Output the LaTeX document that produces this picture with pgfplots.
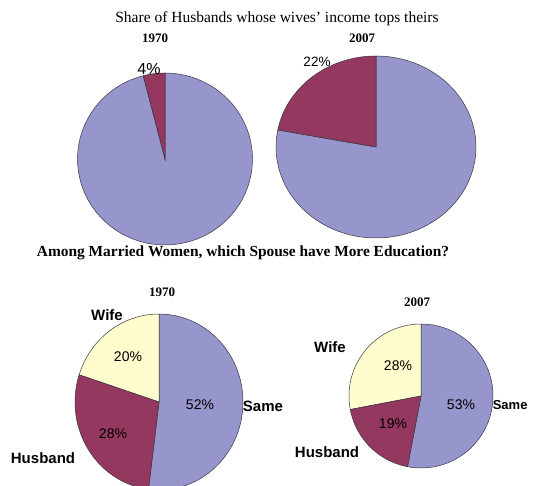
\documentclass[border=0pt]{standalone}
\usepackage{pgfplots}
\pgfplotsset{compat=1.18}
\usepackage{fontspec}
\setmainfont{Liberation Serif}
\newfontfamily\arial{Liberation Sans}
\definecolor{lav}{RGB}{150,150,204}
\definecolor{maroon}{RGB}{148,56,96}
\definecolor{cream}{RGB}{255,252,206}
\definecolor{edge}{RGB}{55,55,65}
% wedge: cx, cy, rx, ry, start angle, end angle, colour
\newcommand{\piewedge}[7]{%
  \addplot[fill=#7, draw=edge, line width=0.5pt, domain=#5:#6, samples=80]
    ({#1+#3*cos(x)}, {#2-#4*sin(x)}) -- (axis cs:#1,#2) -- cycle;}
\begin{document}
\begin{tikzpicture}
\begin{axis}[
  x=1bp, y=1bp, y dir=reverse,
  xmin=0, xmax=533, ymin=0, ymax=486,
  hide axis, clip=false, scale only axis,
  every node/.style={inner sep=0pt},
]
\addplot[draw=none] coordinates {(0,0) (533,486)};
% top left: 1970, 4% vs 96%
\piewedge{165}{159}{87.5}{86}{104.4}{450}{lav}
\piewedge{165}{159}{87.5}{86}{90}{104.4}{maroon}
% top right: 2007, 22% vs 78%
\piewedge{376}{147}{100}{91}{169.2}{450}{lav}
\piewedge{376}{147}{100}{91}{90}{169.2}{maroon}
% bottom left 1970: Same 52, Wife 20, Husband 28
\piewedge{159}{402}{84}{88}{-97.2}{90}{lav}
\piewedge{159}{402}{84}{88}{90}{162}{cream}
\piewedge{159}{402}{84}{88}{162}{262.8}{maroon}
% bottom right 2007: Same 53, Wife 28, Husband 19
\piewedge{421}{396}{72}{72}{-100.8}{90}{lav}
\piewedge{421}{396}{72}{72}{90}{190.8}{cream}
\piewedge{421}{396}{72}{72}{190.8}{259.2}{maroon}

\node[font=\fontsize{15.5bp}{18bp}\selectfont] at (axis cs:277,19) {Share of Husbands whose wives' income tops theirs};
\node[font=\fontsize{13bp}{15bp}\selectfont\bfseries] at (axis cs:155,38) {1970};
\node[font=\fontsize{13bp}{15bp}\selectfont\bfseries] at (axis cs:362,38) {2007};
\node[font=\arial\fontsize{16bp}{18bp}\selectfont] at (axis cs:149,69) {4\%};
\node[font=\arial\fontsize{13.5bp}{16bp}\selectfont] at (axis cs:317,62) {22\%};
\node[font=\fontsize{15.4bp}{18bp}\selectfont\bfseries] at (axis cs:243,253) {Among Married Women, which Spouse have More Education?};
\node[font=\fontsize{13bp}{15bp}\selectfont\bfseries] at (axis cs:162,292) {1970};
\node[font=\fontsize{13bp}{15bp}\selectfont\bfseries] at (axis cs:417,302) {2007};
\node[font=\arial\fontsize{15bp}{17bp}\selectfont\bfseries] at (axis cs:107,315) {Wife};
\node[font=\arial\fontsize{14bp}{16bp}\selectfont] at (axis cs:128,357) {20\%};
\node[font=\arial\fontsize{14bp}{16bp}\selectfont] at (axis cs:200,405) {52\%};
\node[font=\arial\fontsize{15bp}{17bp}\selectfont\bfseries] at (axis cs:263,406) {Same};
\node[font=\arial\fontsize{14bp}{16bp}\selectfont] at (axis cs:113,434) {28\%};
\node[font=\arial\fontsize{15bp}{17bp}\selectfont\bfseries] at (axis cs:43,458) {Husband};
\node[font=\arial\fontsize{15bp}{17bp}\selectfont\bfseries] at (axis cs:330,347) {Wife};
\node[font=\arial\fontsize{14bp}{16bp}\selectfont] at (axis cs:398,366) {28\%};
\node[font=\arial\fontsize{14bp}{16bp}\selectfont] at (axis cs:461,405) {53\%};
\node[font=\arial\fontsize{13bp}{16bp}\selectfont\bfseries, anchor=east] at (axis cs:531,405) {Same};
\node[font=\arial\fontsize{14bp}{16bp}\selectfont] at (axis cs:393,424) {19\%};
\node[font=\arial\fontsize{15bp}{17bp}\selectfont\bfseries] at (axis cs:327,452) {Husband};
\end{axis}
\pgfresetboundingbox
\path (current axis.south west) rectangle (current axis.north east);
\end{tikzpicture}
\end{document}
